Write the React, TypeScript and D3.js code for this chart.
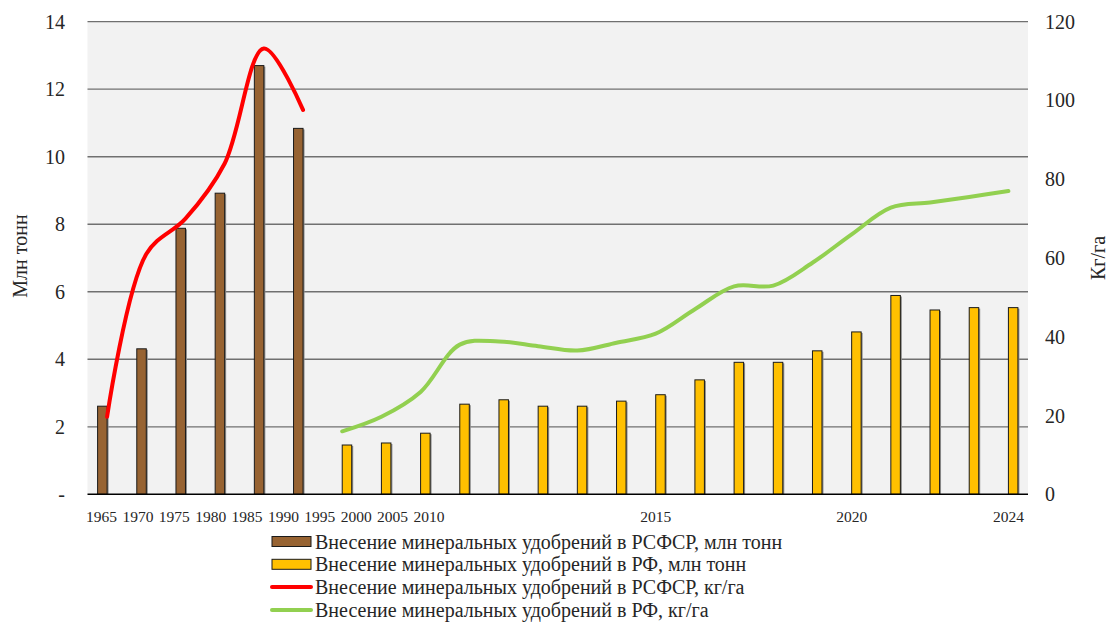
import React from "react";
import * as d3 from "d3";

// categories (years) of the combined chart
const years = [
  "1965", "1970", "1975", "1980", "1985", "1990", "1995", "2000", "2005", "2010",
  "2011", "2012", "2013", "2014", "2015", "2016", "2017", "2018", "2019", "2020",
  "2021", "2022", "2023", "2024",
];
// early tick labels are packed tight under the left part of the axis
const earlyLabels = ["1965", "1970", "1975", "1980", "1985", "1990", "1995", "2000", "2005", "2010"];
const lateLabels = ["2015", "2020", "2024"];

// million tonnes (left axis)
const rsfsrTonnes = [2.61, 4.31, 7.88, 8.92, 12.7, 10.84];
const rsfsrYears = ["1965", "1970", "1975", "1980", "1985", "1990"];
const rfTonnes = [
  1.46, 1.52, 1.81, 2.67, 2.8, 2.61, 2.61, 2.76, 2.95, 3.39, 3.91, 3.91,
  4.25, 4.81, 5.89, 5.46, 5.53, 5.53,
];
const rfYears = years.slice(6);

// kg per hectare (right axis)
const rsfsrKgHa = [19.7, 61, 70, 84, 113.2, 97.6];
const rfKgHa = [
  16, 19.7, 26, 38, 38.8, 37.6, 36.5, 38.5, 40.8, 47, 52.8, 53, 58.8, 66,
  72.8, 74.1, 75.5, 77,
];

const leftTicks = [0, 2, 4, 6, 8, 10, 12, 14];
const rightTicks = [0, 20, 40, 60, 80, 100, 120];

const legendItems = [
  { label: "Внесение минеральных удобрений в РСФСР, млн тонн", kind: "bar", color: "#976332" },
  { label: "Внесение минеральных удобрений в РФ, млн тонн", kind: "bar", color: "#FFC000" },
  { label: "Внесение минеральных удобрений в РСФСР, кг/га", kind: "line", color: "#FF0000" },
  { label: "Внесение минеральных удобрений в РФ, кг/га", kind: "line", color: "#92D050" },
];

const W = 1109;
const H = 623;
const left = 87.5;
const right = 1028;
const top = 21.7;
const bottom = 494.3;
const font = "'Liberation Serif', 'Times New Roman', serif";
const textColor = "#262626";

export default function App() {
  const x = d3.scaleBand<string>().domain(years).range([left, right]).padding(0);
  const yL = d3.scaleLinear().domain([0, 14]).range([bottom, top]);
  const yR = d3.scaleLinear().domain([0, 120]).range([bottom, top]);
  const cx = (d: string) => (x(d) as number) + x.bandwidth() / 2;
  const barW = 9.5;

  const earlyX = d3
    .scalePoint<string>()
    .domain(earlyLabels)
    .range([101.5, 429]);

  const line = d3
    .line<[string, number]>()
    .x((d) => cx(d[0]))
    .y((d) => yR(d[1]))
    .curve(d3.curveCatmullRom.alpha(0.5));

  const redPath = line(rsfsrYears.map((y, i) => [y, rsfsrKgHa[i]])) as string;
  const greenPath = line(rfYears.map((y, i) => [y, rfKgHa[i]])) as string;

  return (
    <svg
      width={W}
      height={H}
      style={{ position: "absolute", left: 0, top: 0, background: "#fff", fontFamily: font }}
    >
      <rect x={left} y={top} width={right - left} height={bottom - top} fill="#F2F2F2" />
      {leftTicks.slice(1).map((t) => (
        <line key={t} x1={left} x2={right} y1={yL(t)} y2={yL(t)} stroke="#707070" strokeWidth={1.3} />
      ))}

      {/* bars */}
      {rsfsrYears.map((yr, i) => (
        <g key={"b1" + yr}>
          <rect x={cx(yr) - barW + 1.5} y={yL(rsfsrTonnes[i]) + 1} width={barW} height={bottom - yL(rsfsrTonnes[i]) - 1} fill="#8c8c8c" />
          <rect x={cx(yr) - barW} y={yL(rsfsrTonnes[i])} width={barW} height={bottom - yL(rsfsrTonnes[i])} fill="#976332" stroke="#1a1a1a" strokeWidth={1} />
        </g>
      ))}
      {rfYears.map((yr, i) => (
        <g key={"b2" + yr}>
          <rect x={cx(yr) + 1.5} y={yL(rfTonnes[i]) + 1} width={barW} height={bottom - yL(rfTonnes[i]) - 1} fill="#8c8c8c" />
          <rect x={cx(yr)} y={yL(rfTonnes[i])} width={barW} height={bottom - yL(rfTonnes[i])} fill="#FFC000" stroke="#1a1a1a" strokeWidth={1} />
        </g>
      ))}

      <line x1={left} x2={right} y1={bottom} y2={bottom} stroke="#000" strokeWidth={1.5} />

      {/* lines */}
      <path d={redPath} fill="none" stroke="#FF0000" strokeWidth={4} strokeLinecap="round" />
      <path d={greenPath} fill="none" stroke="#92D050" strokeWidth={4} strokeLinecap="round" />

      {/* left axis */}
      {leftTicks.map((t) => (
        <text key={"l" + t} x={65} y={yL(t)} dy="0.35em" textAnchor="end" fontSize={20} fill={textColor} fontFamily={font}>
          {t === 0 ? "-" : t}
        </text>
      ))}
      {/* right axis */}
      {rightTicks.map((t) => (
        <text key={"r" + t} x={1045} y={yR(t)} dy="0.35em" textAnchor="start" fontSize={20} fill={textColor} fontFamily={font}>
          {t}
        </text>
      ))}

      {/* x labels */}
      {earlyLabels.map((l) => (
        <text key={"e" + l} x={earlyX(l)} y={521.5} textAnchor="middle" fontSize={15.5} fill={textColor} fontFamily={font}>
          {l}
        </text>
      ))}
      {lateLabels.map((l) => (
        <text key={"t" + l} x={cx(l)} y={521.5} textAnchor="middle" fontSize={15.5} fill={textColor} fontFamily={font}>
          {l}
        </text>
      ))}

      {/* axis titles */}
      <text transform="translate(27,256) rotate(-90)" textAnchor="middle" fontSize={20} fill={textColor} fontFamily={font}>
        Млн тонн
      </text>
      <text transform="translate(1105,258) rotate(-90)" textAnchor="middle" fontSize={20} fill={textColor} fontFamily={font}>
        Кг/га
      </text>

      {/* legend */}
      {legendItems.map((it, i) => {
        const ly = 541.5 + i * 22.8;
        return (
          <g key={it.label}>
            {it.kind === "bar" ? (
              <rect x={272} y={ly - 5} width={39} height={10} fill={it.color} stroke="#1a1a1a" strokeWidth={1} />
            ) : (
              <line x1={272} x2={311} y1={ly} y2={ly} stroke={it.color} strokeWidth={4} strokeLinecap="round" />
            )}
            <text x={315} y={ly} dy="0.35em" fontSize={20} fill={textColor} fontFamily={font}>
              {it.label}
            </text>
          </g>
        );
      })}
    </svg>
  );
}
